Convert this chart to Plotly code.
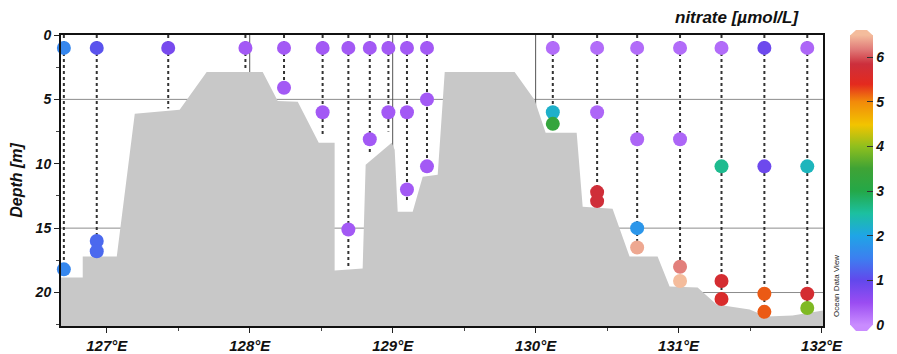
import plotly.graph_objects as go

# ---------------- data ----------------
station_lon = [126.70, 126.93, 127.43, 127.97, 128.24, 128.51, 128.69, 128.84, 128.97,
               129.10, 129.24, 130.12, 130.43, 130.71, 131.01, 131.30, 131.60, 131.90]
station_bottom = [18.4, 16.8, 5.7, 2.7, 4.2, 7.8, 18.0, 9.3, 7.5,
                  12.9, 10.5, 7.0, 12.9, 16.6, 19.3, 20.5, 21.5, 21.3]
sample_depth = [
    [1, 18.2], [1, 16.0, 16.8], [1], [1], [1, 4.1], [1, 6.0], [1, 15.1], [1, 8.1], [1, 6.0],
    [1, 6.0, 12.0], [1, 5.0, 10.2], [1, 6.0, 6.9], [1, 6.0, 12.2, 12.9], [1, 8.1, 15.0, 16.5],
    [1, 8.1, 18.0, 19.1], [1, 10.2, 19.1, 20.5], [1, 10.2, 20.1, 21.5], [1, 10.2, 20.1, 21.2]]
sample_nitrate = [
    [1.6, 1.6], [1.1, 1.3, 1.3], [0.8], [0.4], [0.4, 0.4], [0.4, 0.4], [0.4, 0.4], [0.4, 0.4],
    [0.4, 0.4], [0.4, 0.4, 0.4], [0.4, 0.4, 0.4], [0.25, 2.2, 3.3], [0.25, 0.3, 5.8, 5.8],
    [0.25, 0.3, 1.8, 6.4], [0.25, 0.3, 6.2, 6.5], [0.25, 2.6, 5.7, 5.6], [0.9, 0.9, 5.2, 5.2],
    [0.3, 2.3, 5.7, 3.9]]
bathy_lon = [126.678, 126.832, 126.832, 127.070, 127.196, 127.510, 127.699, 128.091, 128.196,
             128.336, 128.483, 128.594, 128.594, 128.790, 128.811, 128.993, 129.014, 129.035,
             129.140, 129.210, 129.315, 129.364, 129.853, 129.993, 130.070, 130.287, 130.329,
             130.538, 130.657, 130.853, 130.937, 131.133, 131.266, 131.497, 131.615, 131.797,
             132.010]
bathy_depth = [18.84, 18.84, 17.21, 17.21, 6.12, 5.81, 2.87, 2.87, 5.12,
               5.19, 8.37, 8.37, 18.29, 18.14, 10.08, 8.37, 8.91, 13.72,
               13.72, 11.01, 10.85, 2.87, 2.87, 5.04, 7.60, 7.60, 13.33,
               13.49, 17.21, 17.21, 19.53, 19.61, 20.93, 21.32, 21.86, 21.78,
               21.40]
x_tickvals = [127, 128, 129, 130, 131, 132]
x_ticktext = ["127°E", "128°E", "129°E", "130°E", "131°E", "132°E"]
y_tickvals = [0, 5, 10, 15, 20]
cbar_ticks = [0, 1, 2, 3, 4, 5, 6]

X_RANGE = [126.68, 132.01]
Y_MAX = 22.6
CMIN, CMAX = 0, 6.5

odv_scale = [
    [0.0, "#c98cff"], [0.077, "#9a4cf2"], [0.154, "#6248ec"], [0.23, "#3c7ff0"],
    [0.308, "#1fa5e6"], [0.385, "#1cc0a0"], [0.462, "#24a848"], [0.54, "#3fa335"],
    [0.615, "#8fbf1e"], [0.69, "#f2c400"], [0.77, "#f28a0a"], [0.83, "#e42a1e"],
    [0.9, "#cc2f3c"], [0.95, "#e07a78"], [1.0, "#f4bc9c"]]

BF = dict(family="Liberation Sans, Arial, sans-serif", weight="bold", style="italic", color="#111")

fig = go.Figure()

# dotted station lines
lx, ly = [], []
for lon, bot in zip(station_lon, station_bottom):
    lx += [lon, lon, None]
    ly += [0, bot, None]
fig.add_trace(go.Scatter(x=lx, y=ly, mode="lines", line=dict(color="#333333", width=2, dash="dot"),
                         hoverinfo="skip", showlegend=False))

# bathymetry
bx = bathy_lon + [X_RANGE[1] + 0.01, X_RANGE[1] + 0.01, X_RANGE[0] - 0.01, X_RANGE[0] - 0.01]
by = bathy_depth + [bathy_depth[-1], Y_MAX + 0.5, Y_MAX + 0.5, bathy_depth[0]]
fig.add_trace(go.Scatter(x=bx, y=by, mode="lines", fill="toself", fillcolor="#c8c8c8",
                         line=dict(width=0, color="#c8c8c8"), hoverinfo="skip", showlegend=False))

# samples
sx, sy, sc = [], [], []
for lon, ds, vs in zip(station_lon, sample_depth, sample_nitrate):
    for d, v in zip(ds, vs):
        sx.append(lon); sy.append(d); sc.append(v)

# page pixel -> paper coords (the page body has an 8px margin)
pw = 762.0
ph = 291.0
def px(xp):
    return (xp - 61) / pw
def py(yp):
    return (326 - yp) / ph

fig.add_trace(go.Scatter(
    x=sx, y=sy, mode="markers", showlegend=False, cliponaxis=False,
    marker=dict(size=14, color=sc, colorscale=odv_scale, cmin=CMIN, cmax=CMAX, line=dict(width=0),
                showscale=True,
                colorbar=dict(x=px(850), xanchor="left", y=py(180), yanchor="middle", thickness=23,
                              len=290, lenmode="pixels", xpad=0, ypad=0, outlinewidth=0,
                              tickvals=cbar_ticks, ticks="inside", ticklen=6, tickcolor="#333",
                              tickfont=dict(size=14, **BF)))))

shapes = []
# gridlines
for d in [5, 15, 20]:
    shapes.append(dict(type="line", xref="x", yref="y", x0=X_RANGE[0], x1=X_RANGE[1], y0=d, y1=d,
                       line=dict(color="#8c8c8c", width=1), layer="below"))
for lon in [128, 129, 130]:
    shapes.append(dict(type="line", xref="x", yref="y", x0=lon, x1=lon, y0=0, y1=Y_MAX,
                       line=dict(color="#555555", width=1), layer="below"))
# colorbar arrow ends
shapes.append(dict(type="path", xref="paper", yref="paper",
                   path=f"M {px(850)} {py(35.5)} L {px(856)} {py(30)} L {px(867)} {py(30)} L {px(873)} {py(35.5)} Z",
                   fillcolor="#f4bc9c", line=dict(width=0)))
shapes.append(dict(type="path", xref="paper", yref="paper",
                   path=f"M {px(850)} {py(324.5)} L {px(856)} {py(331)} L {px(867)} {py(331)} L {px(873)} {py(324.5)} Z",
                   fillcolor="#c98cff", line=dict(width=0)))

fig.update_layout(
    width=889, height=346, margin=dict(l=53, r=74, t=27, b=28, autoexpand=False),
    paper_bgcolor="white", plot_bgcolor="white", shapes=shapes,
    xaxis=dict(range=X_RANGE, tickvals=x_tickvals, ticktext=x_ticktext, showgrid=False, zeroline=False,
               ticks="outside", ticklen=5, tickcolor="#222", showline=True, linecolor="#111", linewidth=2,
               mirror=True, tickfont=dict(size=15, **BF),
               minor=dict(dtick=0.5, tick0=127, ticks="outside", ticklen=3, tickcolor="#444")),
    yaxis=dict(range=[Y_MAX, 0], tickvals=y_tickvals, showgrid=False, zeroline=False,
               ticks="outside", ticklen=5, tickcolor="#222", showline=True, linecolor="#111", linewidth=2,
               mirror=True, tickfont=dict(size=14, **BF),
               title=dict(text="Depth [m]", font=dict(size=16, **BF), standoff=14),
               minor=dict(dtick=2.5, tick0=0, ticks="outside", ticklen=3, tickcolor="#444")),
    annotations=[
        dict(text="nitrate [µmol/L]", xref="paper", yref="paper", x=px(737), y=py(18),
             xanchor="center", yanchor="middle", showarrow=False, font=dict(size=17, **BF)),
        dict(text="Ocean Data View", xref="paper", yref="paper", x=px(836), y=py(286),
             xanchor="center", yanchor="middle", showarrow=False, textangle=-90,
             font=dict(size=8, family="Liberation Sans, Arial, sans-serif", color="#222")),
    ],
)

fig.write_html("out.html")
